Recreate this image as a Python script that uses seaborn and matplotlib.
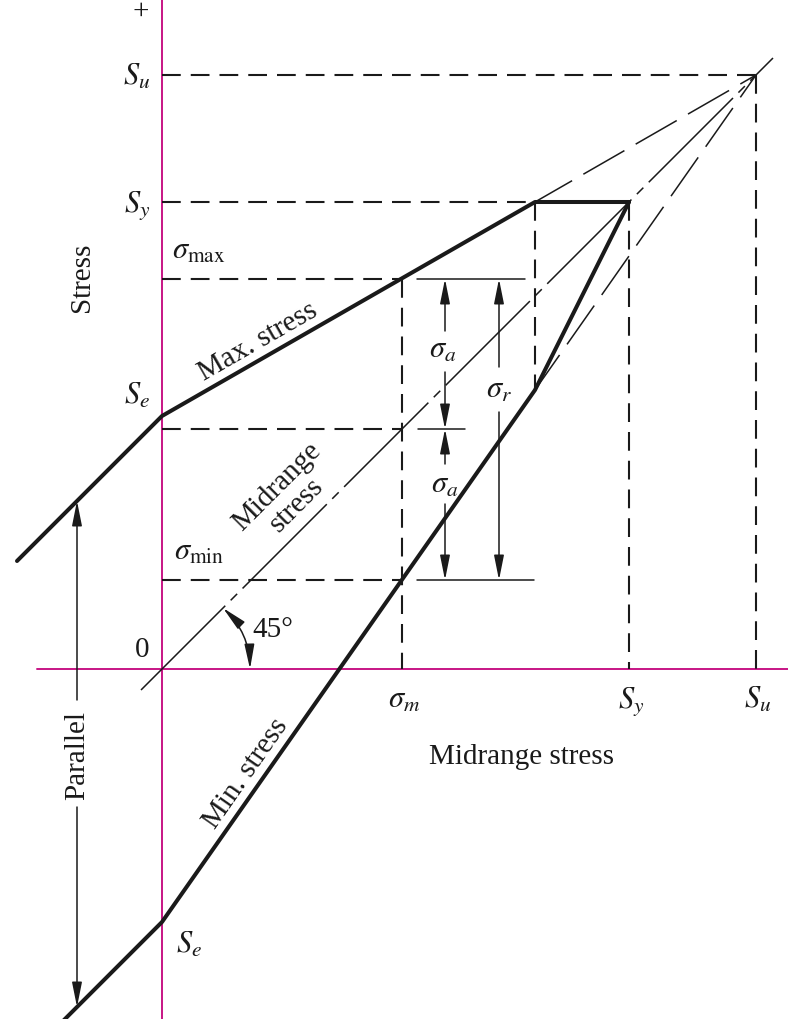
import matplotlib
matplotlib.use('Agg')
import matplotlib.pyplot as plt
import seaborn as sns
import pandas as pd
from matplotlib.patches import FancyArrowPatch

# ---- diagram values (diagram units) ----
Su = 594          # ultimate strength
Sy = 467          # yield strength
Se = 253          # endurance limit
sigma_m = 240     # midrange stress
sigma_max = 390   # max stress
sigma_min = 89    # min stress
kink_x = 373      # where max-stress line reaches Sy
kink_y = 279      # min-stress line value at kink_x

max_x = [-145, 0, kink_x, Sy]
max_y = [108, Se, Sy, Sy]
min_x = [-100, 0, kink_x, Sy]
min_y = [-353, -Se, kink_y, Sy]
mid_x = [-21, Sy, 611]
mid_y = [-21, Sy, 611]

tick_labels = [r'$\sigma_m$', r'$S_y$', r'$S_u$']
tick_pos = [sigma_m, Sy, Su]

sns.set_theme(style='white')
plt.rcParams['font.family'] = ['Liberation Serif', 'DejaVu Serif']
plt.rcParams['mathtext.fontset'] = 'stix'

MAG = '#C71585'
K = '#1a1a1a'
FS = 21
MS = 22

fig = plt.figure(figsize=(7.88, 10.20), dpi=100)
ax = fig.add_axes([0, 0, 1, 1])
ax.set_xlim(-162, 626)
ax.set_ylim(-350, 670)
ax.axis('off')

# magenta axes
ax.plot([-125, 626], [0, 0], color=MAG, lw=1.4, zorder=1)
ax.plot([0, 0], [-350, 670], color=MAG, lw=1.4, zorder=1)

# main thick lines via seaborn
df_max = pd.DataFrame({'x': max_x, 'y': max_y})
df_min = pd.DataFrame({'x': min_x, 'y': min_y})
sns.lineplot(data=df_max, x='x', y='y', sort=False, estimator=None, color=K, lw=2.9, ax=ax, zorder=5)
sns.lineplot(data=df_min, x='x', y='y', sort=False, estimator=None, color=K, lw=2.9, ax=ax, zorder=5)

# 45 deg midrange line (dash-dot like)
ax.plot(mid_x, mid_y, color=K, lw=1.1, linestyle=(0, (78, 5, 6, 5)), zorder=4)

# long-dash extensions to Su
ax.plot([kink_x, Su], [Sy, Su], color=K, lw=1.1, linestyle=(3, (31, 8.5)), zorder=4)
ax.plot([kink_x, Su], [kink_y, Su], color=K, lw=1.1, linestyle=(3, (31, 8.5)), zorder=4)

dash = (0, (9, 4.8))
# horizontal dashed lines
ax.plot([0, Su], [Su, Su], color=K, lw=1.5, linestyle=dash, zorder=3)
ax.plot([0, kink_x], [Sy, Sy], color=K, lw=1.5, linestyle=dash, zorder=3)
ax.plot([0, sigma_m], [sigma_max, sigma_max], color=K, lw=1.5, linestyle=dash, zorder=3)
ax.plot([0, sigma_m], [sigma_m, sigma_m], color=K, lw=1.5, linestyle=dash, zorder=3)
ax.plot([0, sigma_m], [sigma_min, sigma_min], color=K, lw=1.5, linestyle=dash, zorder=3)
# vertical dashed lines
ax.plot([Su, Su], [Su, 0], color=K, lw=1.5, linestyle=dash, zorder=3)
ax.plot([Sy, Sy], [Sy, 0], color=K, lw=1.5, linestyle=dash, zorder=3)
ax.plot([kink_x, kink_x], [Sy, kink_y], color=K, lw=1.5, linestyle=dash, zorder=3)
ax.plot([sigma_m, sigma_m], [sigma_max, 0], color=K, lw=1.5, linestyle=dash, zorder=3)

# thin solid reference ticks
ax.plot([255, 363], [sigma_max, sigma_max], color=K, lw=1.1)
ax.plot([256, 303], [sigma_m, sigma_m], color=K, lw=1.1)
ax.plot([255, 372], [sigma_min, sigma_min], color=K, lw=1.1)

AS = '-|>,head_length=1.5,head_width=0.3'


def arrow(tail, tip):
    ax.annotate('', xy=tip, xytext=tail,
                arrowprops=dict(arrowstyle=AS, color=K, lw=1.1,
                                shrinkA=0, shrinkB=0, mutation_scale=10))


# sigma_a upper
xa = 283
arrow((xa, 338), (xa, sigma_max))
arrow((xa, 297), (xa, sigma_m))
# sigma_a lower
arrow((xa, 205), (xa, sigma_m))
arrow((xa, 165), (xa, sigma_min))
# sigma_r
xr = 337
arrow((xr, 302), (xr, sigma_max))
arrow((xr, 257), (xr, sigma_min))
# parallel
xp = -85
arrow((xp, -31), (xp, 168))
arrow((xp, -138), (xp, -338))

# 45 deg arc
arc = FancyArrowPatch((88, 0), (61, 61), connectionstyle='arc3,rad=0.207',
                      arrowstyle='<|-|>,head_length=1.5,head_width=0.3',
                      mutation_scale=10, color=K, lw=1.1, shrinkA=0, shrinkB=0)
ax.add_patch(arc)

# texts
ax.text(-21, 658, '+', fontsize=FS, ha='center', va='center', color=K)
ax.text(-12, Su - 9, r'$S_u$', fontsize=MS, ha='right', va='baseline', color=K)
ax.text(-12, Sy - 9, r'$S_y$', fontsize=MS, ha='right', va='baseline', color=K)
ax.text(-12, Se + 13, r'$S_e$', fontsize=MS, ha='right', va='baseline', color=K)
ax.text(10, 411, r'$\sigma_{\mathrm{max}}$', fontsize=MS, ha='left', va='baseline', color=K)
ax.text(12, 110, r'$\sigma_{\mathrm{min}}$', fontsize=MS, ha='left', va='baseline', color=K)
ax.text(14, -283, r'$S_e$', fontsize=MS, ha='left', va='baseline', color=K)
ax.text(-20, 20, '0', fontsize=FS, ha='center', va='center', color=K)
ax.text(111, 40, '45°', fontsize=FS, ha='center', va='center', color=K)
ax.text(-80, 393, 'Stress', fontsize=FS, rotation=90, ha='center', va='center', color=K)
ax.text(96, 328, 'Max. stress', fontsize=FS, rotation=29.9, rotation_mode='anchor',
        ha='center', va='center', color=K)
ax.text(125, 174, 'Midrange\nstress', fontsize=FS, rotation=45, rotation_mode='anchor',
        ha='center', va='center', color=K, linespacing=1.05)
ax.text(84, -104, 'Min. stress', fontsize=FS, rotation=55, rotation_mode='anchor',
        ha='center', va='center', color=K)
ax.text(-85, -85, 'Parallel', fontsize=FS, rotation=90, ha='center', va='center', color=K)
ax.text(360, -87, 'Midrange stress', fontsize=FS, ha='center', va='center', color=K)
ax.text(xa - 2, 320, r'$\sigma_a$', fontsize=MS, ha='center', va='center', color=K)
ax.text(xa, 185, r'$\sigma_a$', fontsize=MS, ha='center', va='center', color=K)
ax.text(xr, 280, r'$\sigma_r$', fontsize=MS, ha='center', va='center', color=K)
for p, lab in zip(tick_pos, tick_labels):
    ax.text(p + 2, -38, lab, fontsize=MS, ha='center', va='baseline', color=K)

fig.savefig('out.png', dpi=100)
